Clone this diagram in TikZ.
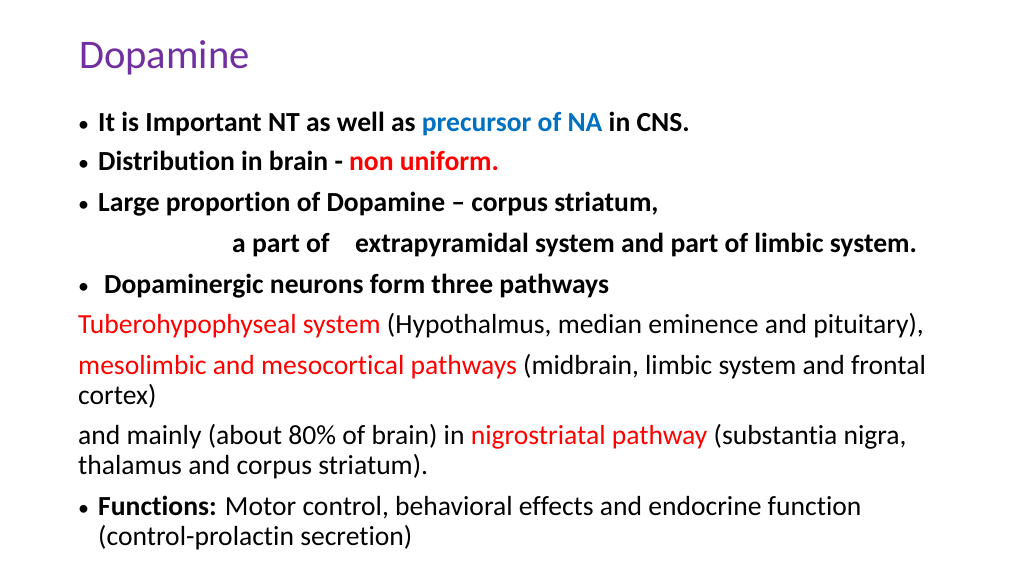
\documentclass[tikz,border=0pt]{standalone}
\usepackage{fontspec}
\setmainfont{Carlito}[Ligatures={NoCommon}]
\definecolor{ttl}{HTML}{7030A0}
\definecolor{blu}{HTML}{0070C0}
\definecolor{rd}{HTML}{FF0000}
\begin{document}
\begin{tikzpicture}[x=1pt,y=-1pt,
  tx/.style={anchor=base west,inner sep=0pt,font=\fontsize{27.6}{32}\selectfont},
  bl/.style={anchor=base west,inner sep=0pt,font=\fontsize{22}{26}\selectfont}]
\useasboundingbox (0,0) rectangle (1024,576);
\node[anchor=base west,inner sep=0pt,font=\fontsize{40.6}{46}\selectfont,text=ttl] (t) at (79,68) {Dopamine};
\node[bl] (b1) at (78,131) {•};
\node[tx] (l1) at (98,131) {\bfseries It is Important NT as well as \textcolor{blu}{precursor of NA} in CNS.};
\node[bl] (b2) at (78,170) {•};
\node[tx] (l2) at (98,170) {\bfseries Distribution in brain - \textcolor{rd}{non uniform.}};
\node[bl] (b3) at (78,211) {•};
\node[tx] (l3) at (98,211) {\bfseries Large proportion of Dopamine – corpus striatum,};
\node[tx] (l4a) at (232,252) {\bfseries a part of};
\node[tx] (l4b) at (355,252) {\bfseries extrapyramidal system and part of limbic system.};
\node[bl] (b5) at (78,293) {•};
\node[tx] (l5) at (104,293) {\bfseries Dopaminergic neurons form three pathways};
\node[tx] (l6) at (78,333) {\textcolor{rd}{Tuberohypophyseal system} (Hypothalmus, median eminence and pituitary),};
\node[tx] (l7) at (78,374) {\textcolor{rd}{mesolimbic and mesocortical pathways} (midbrain, limbic system and frontal};
\node[tx] (l8) at (78,404) {cortex)};
\node[tx] (l9) at (78,444) {and mainly (about 80\% of brain) in \textcolor{rd}{nigrostriatal pathway} (substantia nigra,};
\node[tx] (l10) at (78,474) {thalamus and corpus striatum).};
\node[bl] (b11) at (78,515) {•};
\node[tx] (l11) at (98,515) {\textbf{Functions:} Motor control, behavioral effects and endocrine function};
\node[tx] (l12) at (98,545) {(control-prolactin secretion)};
\end{tikzpicture}
\end{document}
